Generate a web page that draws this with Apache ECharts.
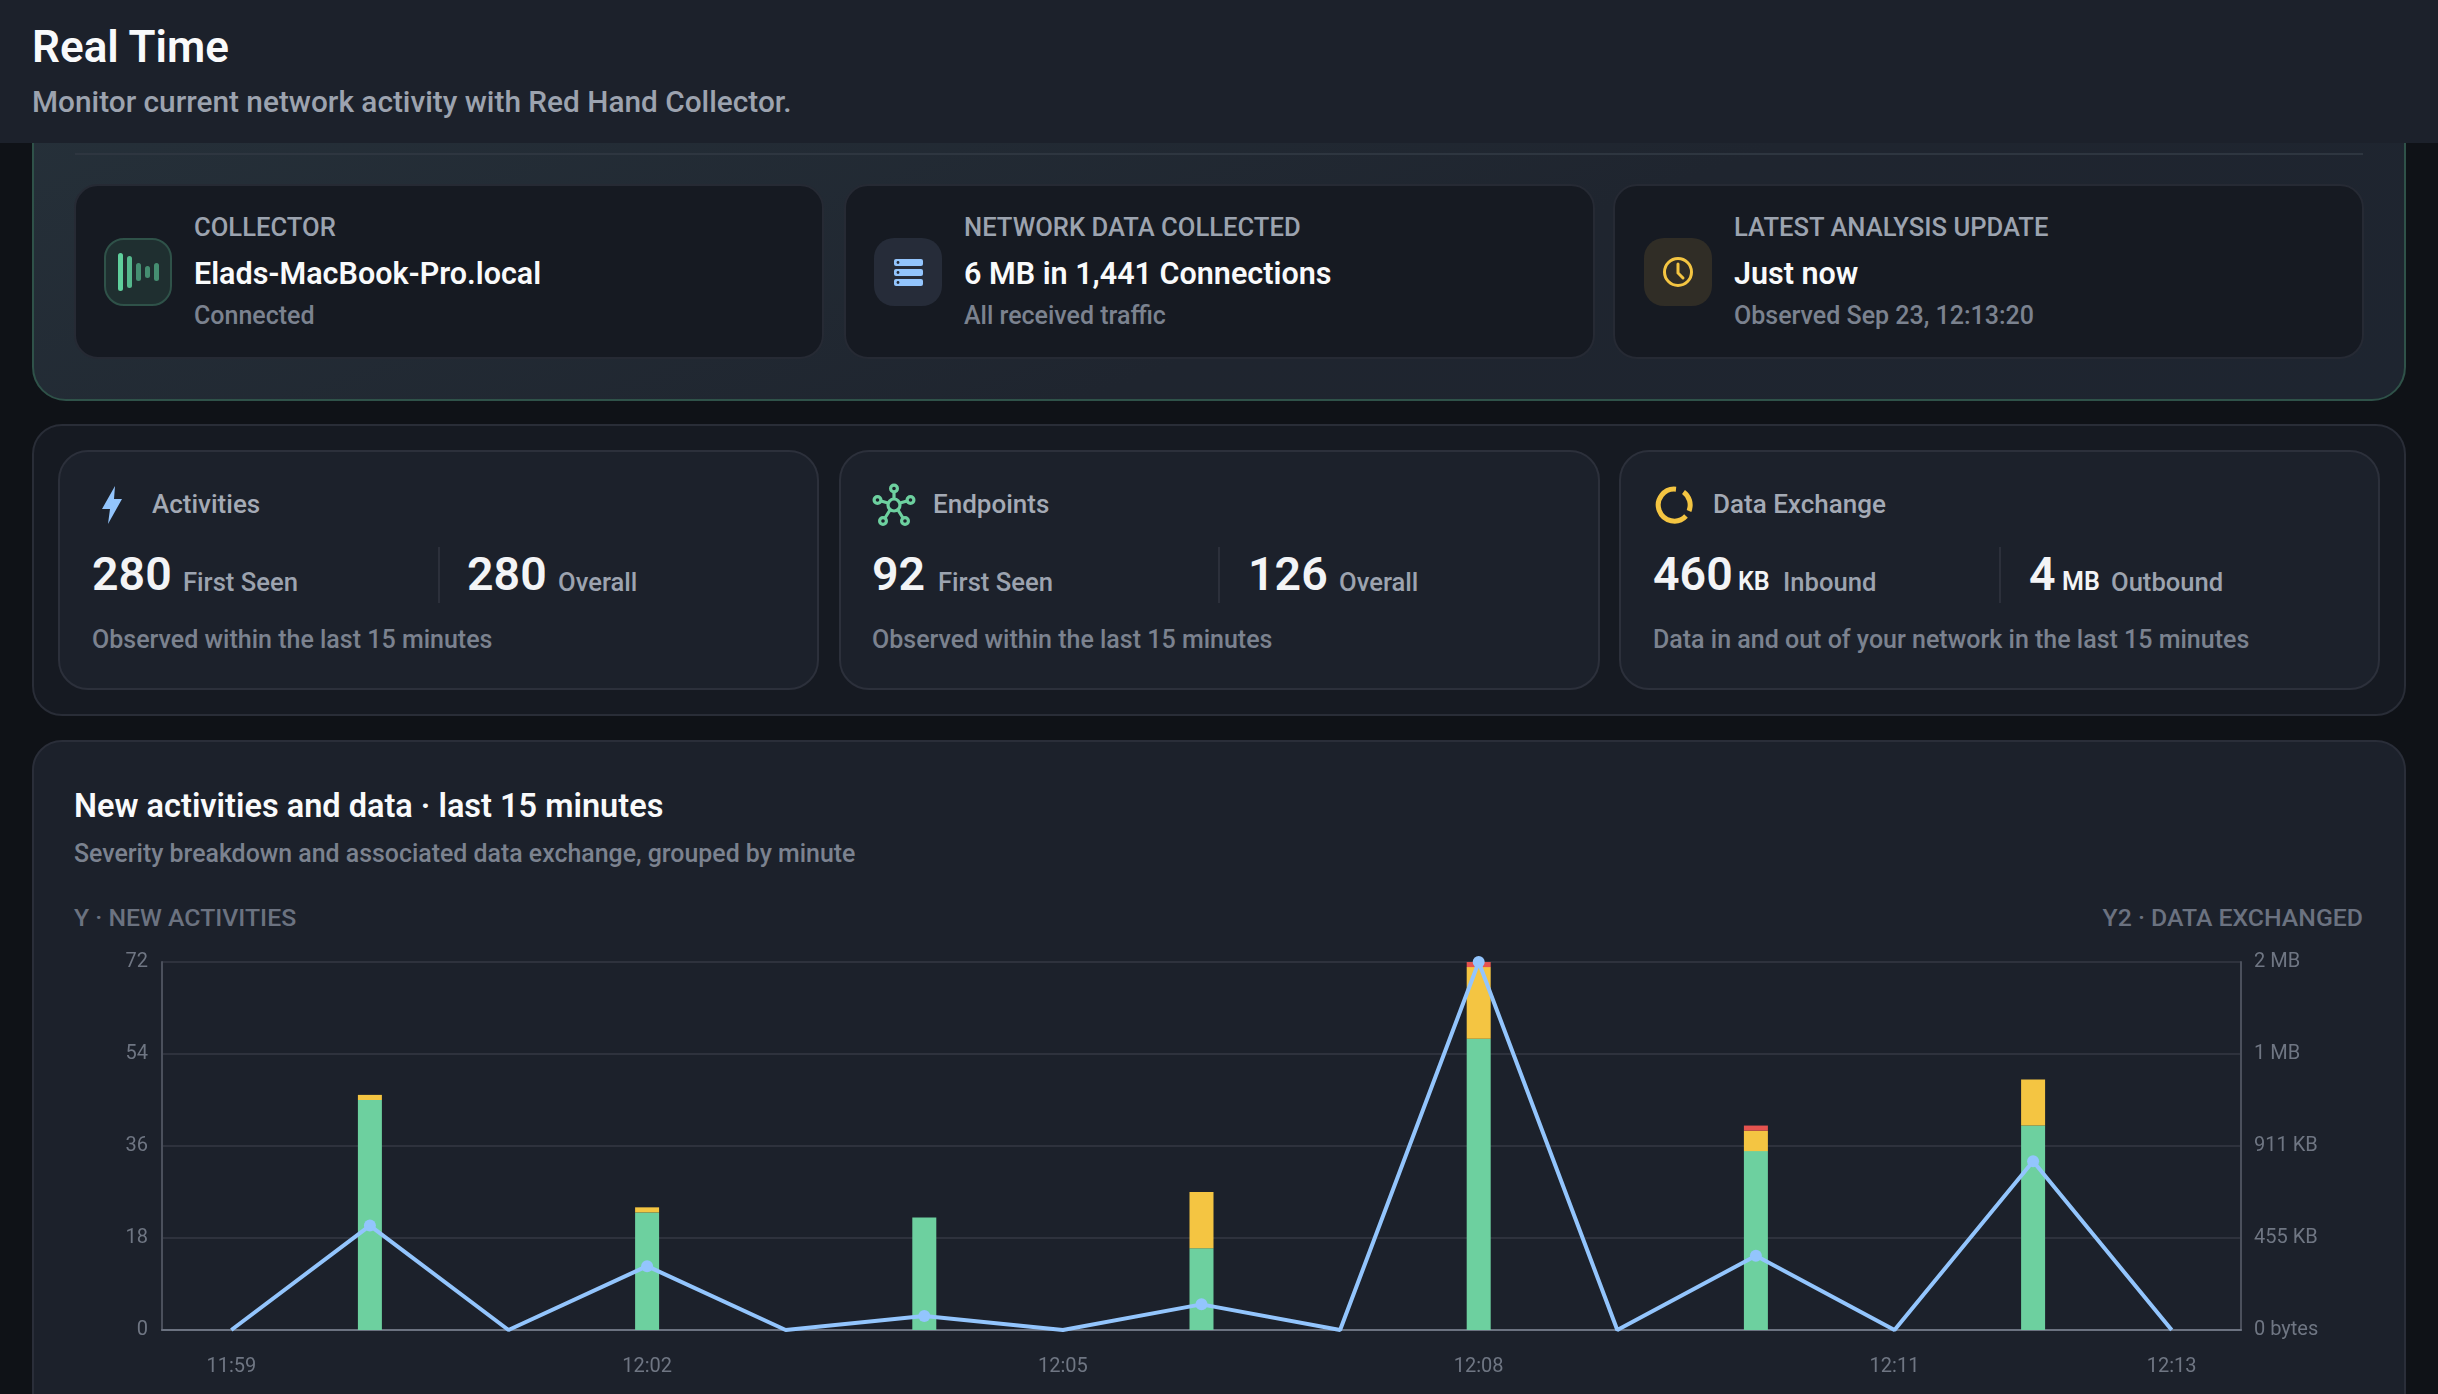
<!DOCTYPE html>
<html>
<head>
<meta charset="utf-8">
<title>Real Time</title>
<script src="https://cdn.jsdelivr.net/npm/echarts@6/dist/echarts.min.js"></script>
<style>
html, body { margin: 0; padding: 0; width: 2438px; height: 1394px; overflow: hidden; background: #0f1217; font-family: Roboto, sans-serif; }
.box { position: absolute; box-sizing: border-box; }
.t { position: absolute; white-space: nowrap; transform: translateY(-50%); line-height: 1.2; }
.header { left: 0; top: 0; width: 2438px; height: 143px; background: #1c212b; z-index: 3; }
.live { left: 32px; top: 60px; width: 2374px; height: 341px; border: 2px solid #2f5249; border-radius: 34px; background: linear-gradient(160deg, #26313a 0%, #1f252f 60%, #1e2530 100%); }
.rule { left: 75px; top: 153px; width: 2288px; height: 2px; background: #2e3640; }
.card { top: 184px; height: 175px; border: 2px solid #262a34; border-radius: 24px; background: #161a22; }
.icon { top: 238px; width: 68px; height: 68px; border-radius: 20px; }
.stats { left: 32px; top: 424px; width: 2374px; height: 292px; border: 2px solid #292d37; border-radius: 30px; background: #161a22; }
.stat { top: 450px; width: 761px; height: 240px; border: 2px solid #2c303b; border-radius: 30px; background: #1c212b; }
.sep { top: 547px; width: 2px; height: 56px; background: #2c303b; }
.panel { left: 32px; top: 740px; width: 2374px; height: 700px; border: 2px solid #2a2e39; border-radius: 30px; background: #1c212b; }
.label { font-size: 25.6px; color: #9ca3af; font-weight: 500; }
.value { font-size: 30.5px; color: #f9fafb; font-weight: 600; }
.note { font-size: 25px; color: #7b828f; font-weight: 500; }
.head { font-size: 26px; color: #a4aab5; font-weight: 500; }
.big { font-size: 46.5px; color: #f3f4f6; font-weight: 600; }
.unit { font-size: 25px; color: #f3f4f6; font-weight: 600; }
.sub { font-size: 25.6px; color: #9ca3af; font-weight: 500; }
.cap { font-size: 25px; color: #6b7280; font-weight: 500; }
#main { position: absolute; left: 60px; top: 930px; width: 2340px; height: 464px; }
</style>
</head>
<body>
<div class="box header"></div>
<div class="t" style="left:32px;top:47px;font-size:44px;font-weight:600;color:#f9fafb;z-index:4">Real Time</div>
<div class="t" style="left:32px;top:102px;font-size:29.8px;font-weight:500;color:#9ca3af;z-index:4">Monitor current network activity with Red Hand Collector.</div>

<div class="box live"></div>
<div class="box rule"></div>
<div class="box card" style="left:74px;width:750px"></div>
<div class="box card" style="left:844px;width:751px"></div>
<div class="box card" style="left:1613px;width:751px"></div>

<div class="box icon" style="left:104px;background:#1f2f30;border:2px solid #2f5249">
<svg width="64" height="64" viewBox="0 0 64 64"><g fill="#5fcf9c"><rect x="12" y="13" width="5" height="38" rx="2.5"/><rect x="21" y="16" width="5" height="32" rx="2.5" opacity=".85"/><rect x="30" y="23" width="5" height="18" rx="2.5" opacity=".6"/><rect x="39" y="26" width="5" height="12" rx="2.5" opacity=".6"/><rect x="48" y="23" width="5" height="18" rx="2.5" opacity=".6"/></g></svg>
</div>
<div class="t label" style="left:194px;top:227px">COLLECTOR</div>
<div class="t value" style="left:194px;top:274px">Elads-MacBook-Pro.local</div>
<div class="t note" style="left:194px;top:316px">Connected</div>

<div class="box icon" style="left:874px;background:#262c39">
<svg width="68" height="68" viewBox="0 0 68 68"><g fill="#93c5fd"><rect x="20" y="21" width="29" height="7" rx="2"/><rect x="20" y="31" width="29" height="7" rx="2"/><rect x="20" y="41" width="29" height="7" rx="2"/></g><g fill="#262c39"><circle cx="24" cy="24.5" r="1.4"/><circle cx="24" cy="34.5" r="1.4"/><circle cx="24" cy="44.5" r="1.4"/></g></svg>
</div>
<div class="t label" style="left:964px;top:227px">NETWORK DATA COLLECTED</div>
<div class="t value" style="left:964px;top:274px">6 MB in 1,441 Connections</div>
<div class="t note" style="left:964px;top:316px">All received traffic</div>

<div class="box icon" style="left:1644px;background:#302d26">
<svg width="68" height="68" viewBox="0 0 68 68"><circle cx="34" cy="34" r="13.5" fill="none" stroke="#f4c542" stroke-width="3"/><path d="M34 26v9l5 5" fill="none" stroke="#f4c542" stroke-width="3" stroke-linecap="round"/></svg>
</div>
<div class="t label" style="left:1734px;top:227px">LATEST ANALYSIS UPDATE</div>
<div class="t value" style="left:1734px;top:274px">Just now</div>
<div class="t note" style="left:1734px;top:316px">Observed Sep 23, 12:13:20</div>

<div class="box stats"></div>
<div class="box stat" style="left:58px"></div>
<div class="box stat" style="left:839px"></div>
<div class="box stat" style="left:1619px"></div>

<svg class="box" style="left:96px;top:485px" width="32" height="40" viewBox="0 0 32 40"><path d="M19 1 L6 24 L14 24 L12 39 L26 14 L18 14 Z" fill="#93c5fd"/></svg>
<div class="t head" style="left:152px;top:505px">Activities</div>
<div class="t big" style="left:92px;top:575px">280</div>
<div class="t sub" style="left:183px;top:582px">First Seen</div>
<div class="box sep" style="left:438px"></div>
<div class="t big" style="left:467px;top:575px">280</div>
<div class="t sub" style="left:558px;top:582px">Overall</div>
<div class="t note" style="left:92px;top:640px">Observed within the last 15 minutes</div>

<svg class="box" style="left:872px;top:483px" width="44" height="44" viewBox="0 0 44 44"><g fill="none" stroke="#6dd09f" stroke-width="3.2"><circle cx="22" cy="22" r="6"/><circle cx="22" cy="5.5" r="3.4"/><circle cx="5.5" cy="17" r="3.4"/><circle cx="38.5" cy="17" r="3.4"/><circle cx="11" cy="38" r="3.4"/><circle cx="33" cy="38" r="3.4"/><path d="M22 9v7M9 18l7 2M35 18l-7 2M13 35l5-8M31 35l-5-8"/></g></svg>
<div class="t head" style="left:933px;top:505px">Endpoints</div>
<div class="t big" style="left:872px;top:575px">92</div>
<div class="t sub" style="left:938px;top:582px">First Seen</div>
<div class="box sep" style="left:1218px"></div>
<div class="t big" style="left:1248px;top:575px">126</div>
<div class="t sub" style="left:1339px;top:582px">Overall</div>
<div class="t note" style="left:872px;top:640px">Observed within the last 15 minutes</div>

<svg class="box" style="left:1654px;top:485px" width="40" height="40" viewBox="0 0 40 40"><g fill="none" stroke="#f4c542" stroke-width="5" stroke-linecap="butt"><path d="M22 4.2 A16 16 0 1 0 32 31"/><path d="M29.5 7 A16 16 0 0 1 35 26"/></g></svg>
<div class="t head" style="left:1713px;top:505px">Data Exchange</div>
<div class="t big" style="left:1653px;top:575px">460</div>
<div class="t unit" style="left:1738px;top:582px">KB</div>
<div class="t sub" style="left:1783px;top:582px">Inbound</div>
<div class="box sep" style="left:1999px"></div>
<div class="t big" style="left:2029px;top:575px">4</div>
<div class="t unit" style="left:2062px;top:582px">MB</div>
<div class="t sub" style="left:2111px;top:582px">Outbound</div>
<div class="t note" style="left:1653px;top:640px">Data in and out of your network in the last 15 minutes</div>

<div class="box panel"></div>
<div class="t" style="left:74px;top:806px;font-size:32.5px;font-weight:600;color:#f9fafb">New activities and data · last 15 minutes</div>
<div class="t note" style="left:74px;top:854px;font-size:24.9px">Severity breakdown and associated data exchange, grouped by minute</div>
<div class="t cap" style="left:74px;top:918px;font-size:24.8px">Y · NEW ACTIVITIES</div>
<div class="t cap" style="right:75px;top:918px;font-size:24.8px">Y2 · DATA EXCHANGED</div>
<div id="main"></div>

<script>
var minutes = ['11:59', '12:00', '12:01', '12:02', '12:03', '12:04', '12:05', '12:06', '12:07', '12:08', '12:09', '12:10', '12:11', '12:12', '12:13'];
var lowSeverity = [0, 45, 0, 23, 0, 22, 0, 16, 0, 57, 0, 35, 0, 40, 0];
var mediumSeverity = [0, 1, 0, 1, 0, 0, 0, 11, 0, 14, 0, 4, 0, 9, 0];
var highSeverity = [0, 0, 0, 0, 0, 0, 0, 0, 0, 1, 0, 1, 0, 0, 0];
var dataKb = [0, 517, 0, 316, 0, 69, 0, 127, 0, 1822, 0, 368, 0, 836, 0];
var activityTicks = 18;
var activityMax = 72;
var dataTicks = 455.5;
var dataMax = 1822;

function formatKb(kb) {
    if (kb === 0) return '0 bytes';
    if (kb < 1024) return Math.floor(kb) + ' KB';
    return Math.round(kb / 1024) + ' MB';
}

var myChart = echarts.init(document.getElementById('main'));
var labelStyle = { color: '#6f7683', fontSize: 20, fontFamily: 'Roboto' };
var axisColor = '#4b505c';

function barSeries(name, values, color) {
    return {
        name: name,
        type: 'bar',
        stack: 'severity',
        barWidth: 24,
        data: values,
        itemStyle: { color: color },
        silent: true
    };
}

var option = {
    animation: false,
    backgroundColor: 'transparent',
    grid: { left: 102, right: 159, top: 32, bottom: 64 },
    xAxis: {
        type: 'category',
        data: minutes,
        axisLine: { lineStyle: { color: '#6b7280', width: 2 } },
        axisTick: { alignWithLabel: true, interval: 0, length: 7, lineStyle: { color: '#6b7280', width: 1.5 } },
        axisLabel: {
            color: labelStyle.color,
            fontSize: labelStyle.fontSize,
            fontFamily: labelStyle.fontFamily,
            margin: 27,
            interval: function (index) {
                return index % 3 === 0 || index === minutes.length - 1;
            }
        }
    },
    yAxis: [
        {
            type: 'value',
            min: 0,
            max: activityMax,
            interval: activityTicks,
            axisLine: { show: true, lineStyle: { color: axisColor, width: 2 } },
            axisTick: { show: false },
            axisLabel: { color: labelStyle.color, fontSize: labelStyle.fontSize, fontFamily: labelStyle.fontFamily, margin: 14 },
            splitLine: { lineStyle: { color: '#2e323d', width: 2 } }
        },
        {
            type: 'value',
            min: 0,
            max: dataMax,
            interval: dataTicks,
            axisLine: { show: true, lineStyle: { color: axisColor, width: 2 } },
            axisTick: { show: false },
            axisLabel: { color: labelStyle.color, fontSize: labelStyle.fontSize, fontFamily: labelStyle.fontFamily, margin: 13, formatter: formatKb },
            splitLine: { show: false }
        }
    ],
    series: [
        barSeries('Low', lowSeverity, '#6dd09f'),
        barSeries('Medium', mediumSeverity, '#f4c542'),
        barSeries('High', highSeverity, '#e5534f'),
        {
            name: 'Data exchanged',
            type: 'line',
            yAxisIndex: 1,
            data: dataKb,
            z: 5,
            symbol: 'circle',
            symbolSize: function (v) { return v > 0 ? 12 : 0; },
            lineStyle: { color: '#93c5fd', width: 4 },
            itemStyle: { color: '#93c5fd' }
        }
    ]
};

myChart.setOption(option);
</script>
</body>
</html>
